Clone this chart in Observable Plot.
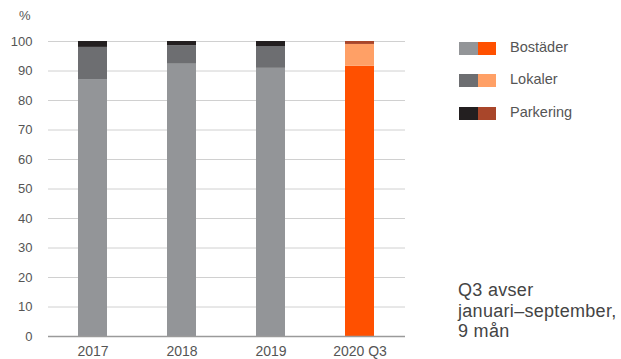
<!DOCTYPE html>
<html>
<head>
<meta charset="utf-8">
<script src="https://cdn.jsdelivr.net/npm/d3@7"></script>
<script src="https://cdn.jsdelivr.net/npm/@observablehq/plot@0.6"></script>
<style>
  html, body { margin: 0; padding: 0; background: #fff; }
  #wrap { position: relative; width: 621px; height: 359px; font-family: "Liberation Sans", Arial, sans-serif; }
  #wrap svg { position: absolute; left: 0; top: 0; }
  .unit { position: absolute; left: 19px; top: 8px; font-size: 13px; color: #555; }
  .leg { position: absolute; left: 459px; font-size: 14.5px; color: #555; height: 13px; }
  .leg .sw { position: absolute; top: 0; width: 18.5px; height: 13px; }
  .leg .lab { position: absolute; left: 51px; top: -3px; white-space: nowrap; }
  .note { position: absolute; left: 458px; top: 280px; font-size: 18px; letter-spacing: 0.3px; line-height: 20.5px; color: #444; white-space: nowrap; }
</style>
</head>
<body>
<div id="wrap"></div>
<script>
const years = ["2017", "2018", "2019", "2020 Q3"];
const series = ["Bostäder", "Lokaler", "Parkering"];
const bostader = [87.1, 92.3, 90.9, 91.6];
const lokaler = [10.9, 6.3, 7.4, 7.4];
const parkering = [2.0, 1.4, 1.7, 1.0];
const yTicks = [0, 10, 20, 30, 40, 50, 60, 70, 80, 90, 100];

const greyPalette = ["#939598", "#6d6e71", "#231f20"];
const orangePalette = ["#ff5000", "#ffa066", "#a9462a"];

const values = [bostader, lokaler, parkering];
const rows = [];
years.forEach((yr, i) => {
  series.forEach((s, j) => {
    const pal = yr === "2020 Q3" ? orangePalette : greyPalette;
    rows.push({year: yr, series: s, value: values[j][i], color: pal[j]});
  });
});

const chart = Plot.plot({
  width: 621,
  height: 359,
  marginLeft: 48,
  marginRight: 216,
  marginTop: 41,
  marginBottom: 23,
  style: {fontFamily: "Liberation Sans, Arial, sans-serif", fontSize: "13px", color: "#555", background: "transparent"},
  x: {domain: years, paddingInner: 0.67, paddingOuter: 0.33, label: null},
  y: {domain: [0, 100], label: null},
  color: {type: "identity"},
  marks: [
    Plot.ruleY(yTicks.filter(t => t > 0), {stroke: "#d0d0d0", strokeWidth: 1}),
    Plot.barY(rows, {x: "year", y: "value", fill: "color", z: "series"}),
    Plot.ruleY([0], {stroke: "#9a9a9a", strokeWidth: 1.5}),
    Plot.axisY({ticks: yTicks, tickSize: 0, tickPadding: 16, label: null, fontSize: 13}),
    Plot.axisX({tickSize: 0, tickPadding: 10, label: null, fontSize: 14})
  ]
});

const wrap = document.getElementById("wrap");
wrap.appendChild(chart);

const unit = document.createElement("div");
unit.className = "unit";
unit.textContent = "%";
wrap.appendChild(unit);

const legTops = [42, 74, 107];
series.forEach((s, j) => {
  const d = document.createElement("div");
  d.className = "leg";
  d.style.top = legTops[j] + "px";
  d.innerHTML = `<div class="sw" style="left:0;background:${greyPalette[j]}"></div>` +
    `<div class="sw" style="left:18.5px;background:${orangePalette[j]}"></div>` +
    `<div class="lab">${s}</div>`;
  wrap.appendChild(d);
});

const note = document.createElement("div");
note.className = "note";
note.innerHTML = "Q3 avser<br>januari–september,<br>9 mån";
wrap.appendChild(note);
</script>
</body>
</html>
